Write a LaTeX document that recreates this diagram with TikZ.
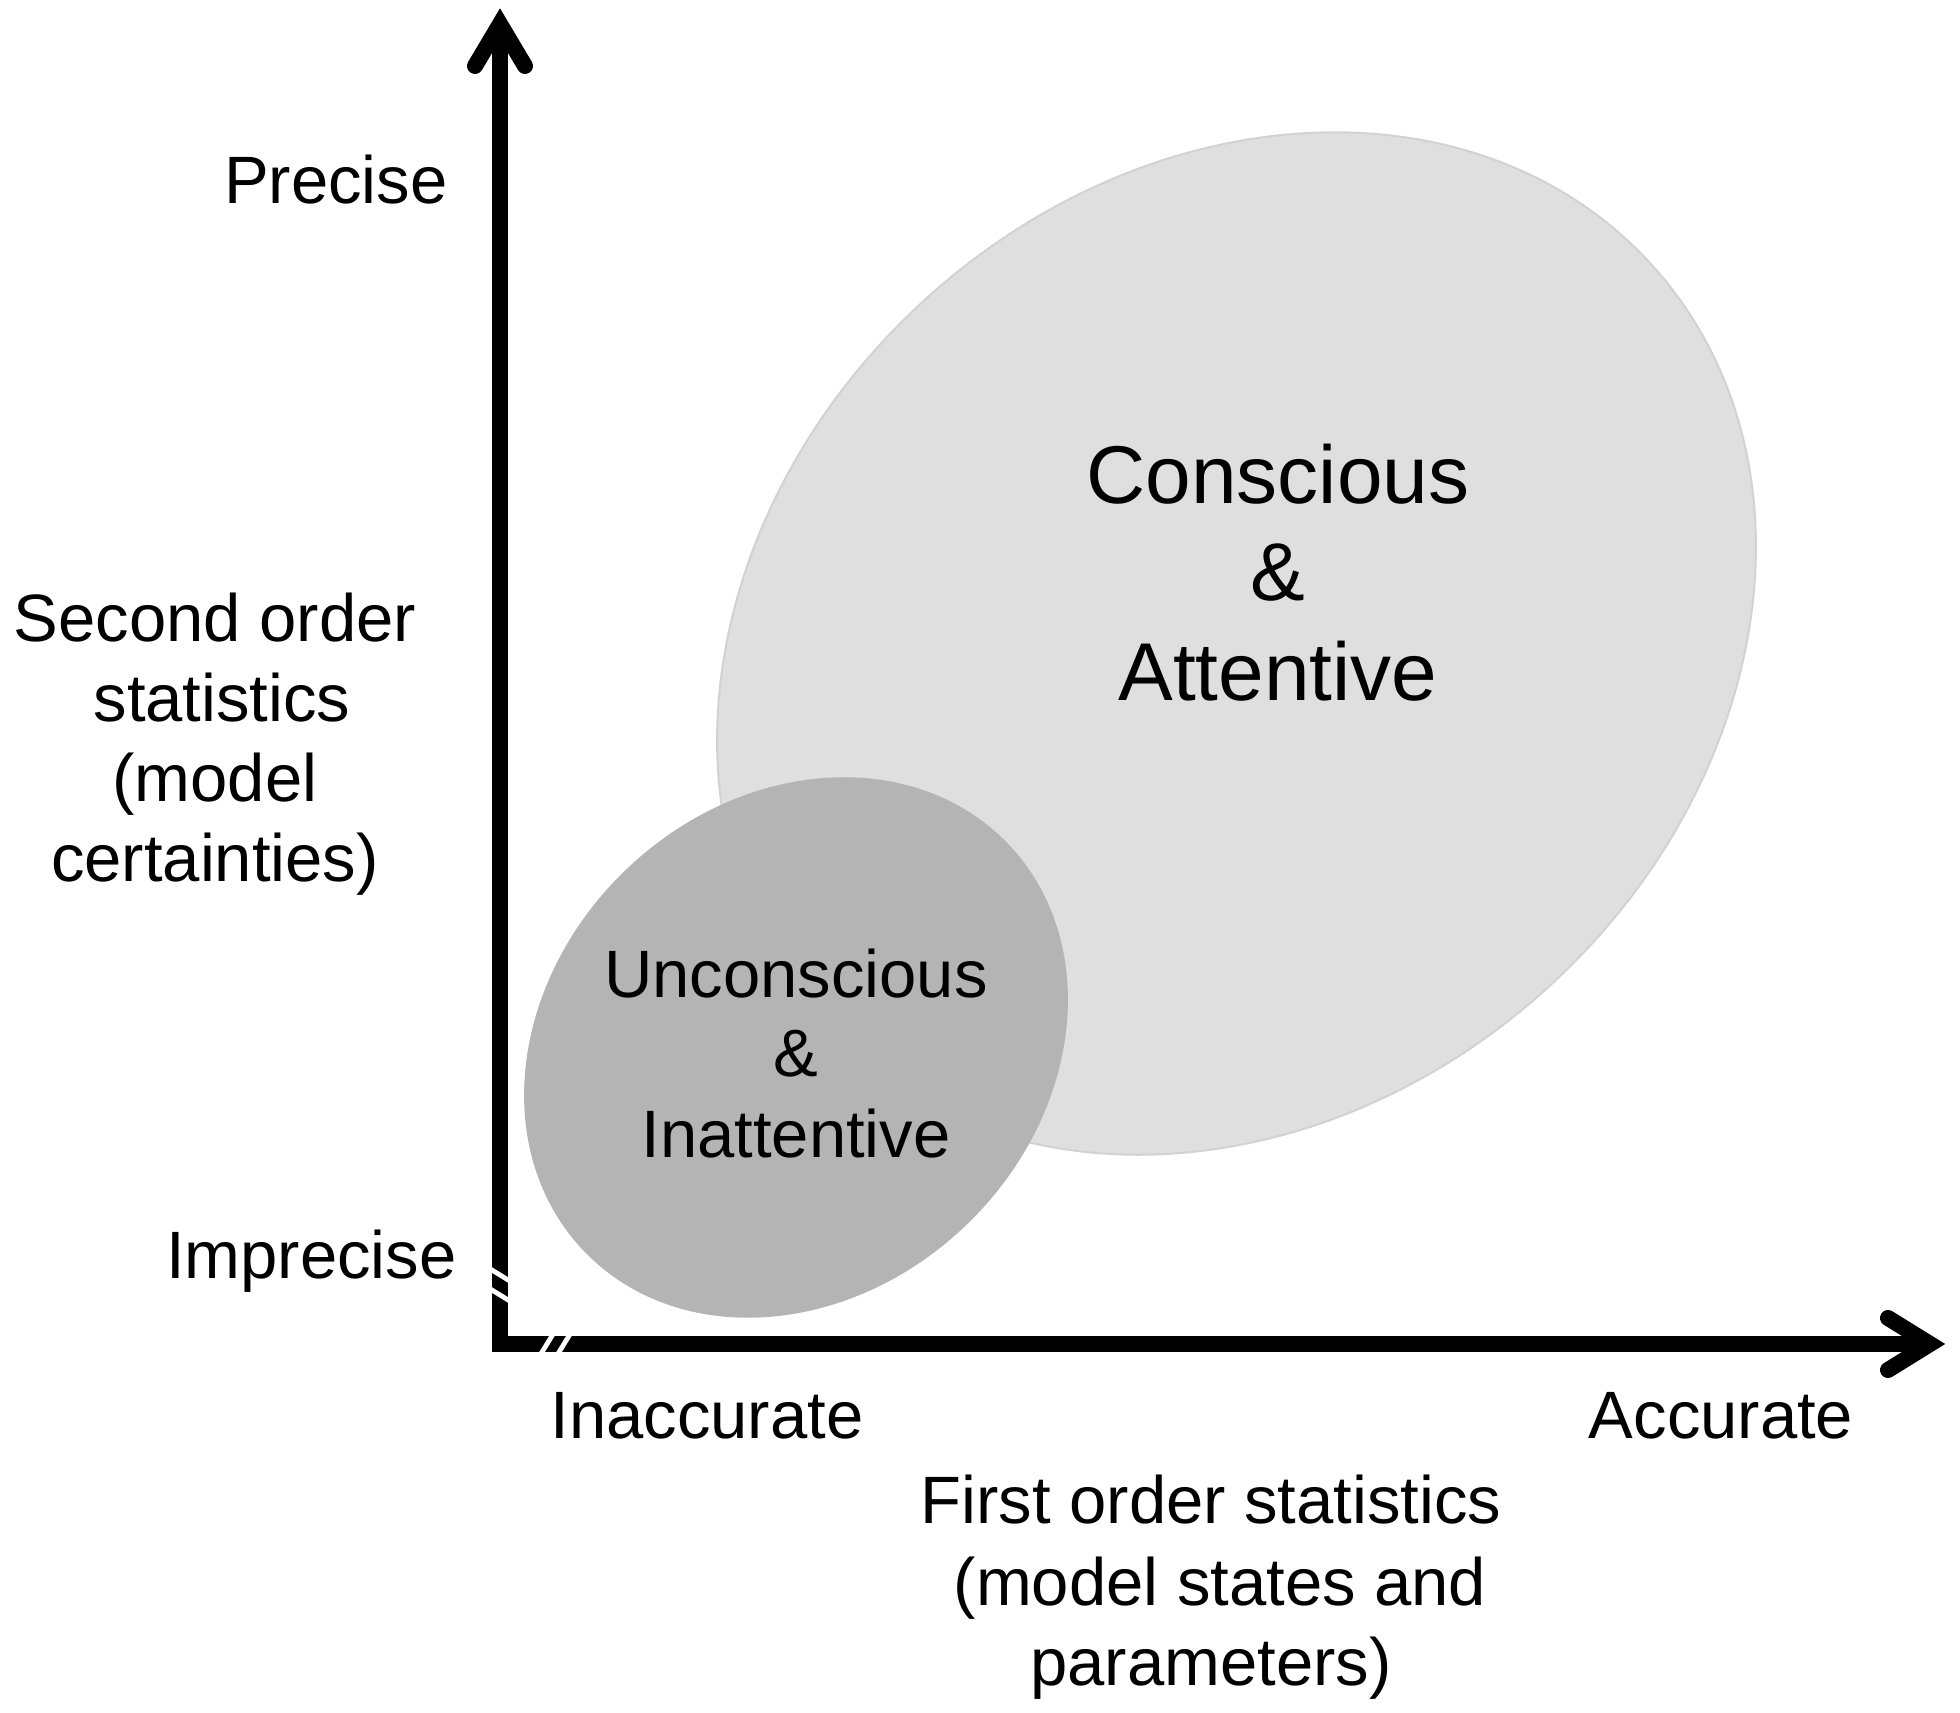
\documentclass[tikz,border=0pt]{standalone}
\usepackage{fontspec}
\setmainfont{Liberation Sans}
\definecolor{bigfill}{HTML}{DFDFDF}
\definecolor{bigline}{HTML}{D2D2D2}
\definecolor{smallfill}{HTML}{B4B4B4}
\begin{document}
\begin{tikzpicture}[x=0.5pt,y=0.5pt,
  axisline/.style={line width=8pt,line join=miter,line cap=butt},
  tipline/.style={line width=8pt,line join=miter,line cap=round},
  breakline/.style={white,line width=2.4pt},
  lbl/.style={font=\fontsize{33.5pt}{40pt}\selectfont,inner sep=0pt,anchor=base},
  biglbl/.style={font=\fontsize{41pt}{49pt}\selectfont,inner sep=0pt,anchor=base}]
\useasboundingbox (0,0) rectangle (1960,1713);
% ellipses
\coordinate (cbig) at (1236.5,1069.5);
\coordinate (csmall) at (796,665.5);
\filldraw[fill=bigfill,draw=bigline,line width=1pt,rotate around={42.6:(cbig)}]
  (cbig) ellipse [x radius=562,y radius=464];
\fill[smallfill,rotate around={44:(csmall)}]
  (csmall) ellipse [x radius=294,y radius=246];
% axes
\coordinate (origin) at (500,369);
\coordinate (ytop) at (500,1689);
\coordinate (xend) at (1930,369);
\draw[axisline] (ytop) -- (origin) -- (xend);
\draw[tipline] (ytop) ++(-25,-42) -- (ytop) -- ++(25,-42);
\draw[tipline] (xend) ++(-42,26) -- (xend) -- ++(-42,-26);
% break marks
\draw[breakline] (origin) ++(-13,77) -- ++(26,-16);
\draw[breakline] (origin) ++(-13,57) -- ++(26,-16);
\draw[breakline] (origin) ++(39,-13) -- ++(16,26);
\draw[breakline] (origin) ++(56,-13) -- ++(16,26);
% axis labels
\node[lbl,anchor=base east] (precise) at (448,1509) {Precise};
\node[lbl,anchor=base east] (imprecise) at (457,434) {Imprecise};
\node[lbl] (so1) at (215,1071) {Second order};
\node[lbl] (so2) at (222,991) {statistics};
\node[lbl] (so3) at (215,911) {(model};
\node[lbl] (so4) at (215,831) {certainties)};
\node[lbl] (inacc) at (707,274) {Inaccurate};
\node[lbl] (acc) at (1721,274) {Accurate};
\node[lbl] (fo1) at (1211,189) {First order statistics};
\node[lbl] (fo2) at (1220,107) {(model states and};
\node[lbl] (fo3) at (1211,27) {parameters)};
% region labels
\node[biglbl] (c1) at (1278,1209) {Conscious};
\node[biglbl] (c2) at (1278,1112) {\&};
\node[biglbl] (c3) at (1278,1012) {Attentive};
\node[lbl] (u1) at (796,715) {Unconscious};
\node[lbl] (u2) at (796,636) {\&};
\node[lbl] (u3) at (796,555) {Inattentive};
\end{tikzpicture}
\end{document}
